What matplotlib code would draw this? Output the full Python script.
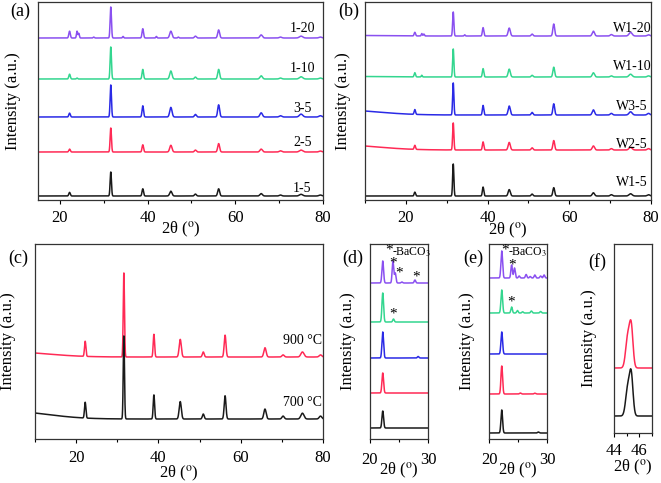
import numpy as np
import matplotlib.pyplot as plt
from matplotlib.ticker import MultipleLocator

plt.rcParams['font.family'] = ['Liberation Serif', 'DejaVu Serif']
plt.rcParams['mathtext.fontset'] = 'stix'
plt.rcParams['font.size'] = 12

# perovskite reflections (2theta, deg) and their gaussian widths
peak_pos = [22.2, 31.6, 38.9, 45.3, 50.9, 56.2, 65.9, 70.3, 75.0, 79.4]
peak_wid = [0.17, 0.15, 0.17, 0.26, 0.22, 0.22, 0.28, 0.28, 0.38, 0.32]

colors = ['#1a1a1a', '#ff2a55', '#2a2ae6', '#33d68f', '#8a50f0']

# (a) samples 1-5 ... 1-20
a_names = ['1-5', '2-5', '3-5', '1-10', '1-20']
a_base = [4, 48, 83, 121, 162]
a_main = [24, 24, 32, 32, 31]
a_lab_y = [12, 57, 92, 131, 171]
a_rel = [
    [0.15, 1, 0.30, 0.20, 0.08, 0.30, 0.10, 0.04, 0.07, 0.04],
    [0.12, 1, 0.30, 0.28, 0.08, 0.35, 0.12, 0.05, 0.08, 0.04],
    [0.12, 1, 0.35, 0.30, 0.08, 0.38, 0.13, 0.04, 0.09, 0.04],
    [0.15, 1, 0.30, 0.25, 0.06, 0.30, 0.10, 0.03, 0.07, 0.03],
    [0.22, 1, 0.30, 0.22, 0.06, 0.26, 0.10, 0.03, 0.06, 0.03],
]
# extra (BaCO3 etc.) reflections: series index, 2theta, relative height
a_extra = [(3, 23.9, 0.03), (4, 23.9, 0.22), (4, 24.3, 0.15), (4, 27.7, 0.03),
           (4, 34.4, 0.05), (4, 42.0, 0.05), (4, 47.0, 0.03)]

# (b) samples W1-5 ... W1-20
b_names = ['W1-5', 'W2-5', 'W3-5', 'W1-10', 'W1-20']
b_base = [4, 50, 85, 123, 164]
b_main = [32, 27, 32, 28, 24]
b_lab_y = [17, 55, 94, 133, 171]
b_rel = [
    [0.12, 1, 0.28, 0.20, 0.06, 0.26, 0.10, 0.04, 0.07, 0.04],
    [0.15, 1, 0.30, 0.28, 0.08, 0.35, 0.15, 0.05, 0.10, 0.05],
    [0.15, 1, 0.30, 0.28, 0.08, 0.35, 0.16, 0.05, 0.10, 0.05],
    [0.15, 1, 0.30, 0.28, 0.06, 0.35, 0.15, 0.04, 0.10, 0.04],
    [0.15, 1, 0.35, 0.33, 0.08, 0.50, 0.20, 0.06, 0.15, 0.05],
]
b_extra = [(3, 23.9, 0.06), (4, 23.9, 0.10), (4, 24.4, 0.08), (4, 34.4, 0.05)]
b_hump = [0, 4, 4, 0.5, 0.5]   # amorphous background at low angle

# (c) calcination temperature
c_names = ['700 °C', '900 °C']
c_base = [20, 82]
c_main = [83, 84]
c_lab_y = [36, 98]
c_rel = [
    [0.19, 1, 0.29, 0.21, 0.06, 0.28, 0.12, 0.035, 0.07, 0.035],
    [0.18, 1, 0.27, 0.21, 0.06, 0.26, 0.11, 0.025, 0.06, 0.025],
]
c_hump = [6, 4]

# (d), (e) zoom 20-30 deg: height of 22.2 peak + extras (series, 2theta, height)
d_base = [11, 46, 81, 117, 156]
d_main = [17, 20, 26, 29, 22]
d_extra = [(2, 28.3, 1.5), (3, 24.05, 3), (4, 23.95, 22), (4, 24.35, 10),
           (4, 25.5, 1), (4, 27.75, 3)]
e_base = [6, 45, 85, 126, 161]
e_main = [23, 28, 22, 23, 27]
e_extra = [(0, 28.5, 1), (1, 25.4, 1), (1, 27.9, 0.8), (3, 23.9, 6), (3, 24.9, 2.5),
           (3, 25.8, 1.2), (3, 27.3, 2), (3, 28.9, 1.5), (4, 23.9, 13), (4, 24.4, 10),
           (4, 25.2, 2), (4, 26.4, 3.5), (4, 27.1, 1.5), (4, 27.9, 3), (4, 28.9, 2),
           (4, 29.5, 3)]

# (f) zoom on 45 deg reflection: two components
f_base = [17, 65]
f_pos = [45.08, 45.36]
f_h = [[27, 40], [30, 40]]


def profile(x, pos, hts, wids):
    y = np.zeros_like(x)
    for p, h, w in zip(pos, hts, wids):
        y += h * np.exp(-0.5 * ((x - p) / w) ** 2)
    return y


fig = plt.figure(figsize=(6.61, 4.83), dpi=100)
W, H = 661, 483


def add_ax(l, t, r, b):
    return fig.add_axes([l / W, 1 - b / H, (r - l) / W, (b - t) / H])


def style(ax, xlim, hpx, wpx, major, minor, gap, tpad, xl_gap):
    ax.set_xlim(*xlim)
    ax.set_ylim(0, hpx)
    ax.set_yticks([])
    ax.xaxis.set_major_locator(MultipleLocator(major))
    ax.xaxis.set_minor_locator(MultipleLocator(minor))
    ax.tick_params(axis='x', which='major', direction='out', length=3, width=0.8,
                   pad=tpad, labelsize=12)
    ax.tick_params(axis='x', which='minor', direction='out', length=2, width=0.8)
    for s in ax.spines.values():
        s.set_color('#333333')
        s.set_linewidth(0.9)
    ax.set_ylabel('Intensity (a.u.)', fontsize=12)
    ax.yaxis.set_label_coords(-gap / wpx, 0.5)
    ax.set_xlabel(r'2θ ($^{\rm o}$)', fontsize=12)
    ax.xaxis.set_label_coords(0.5, -xl_gap / hpx)
    ax.xaxis.label.set_va('top')


def main_pattern(x, base, main, rel, extra, idx, hump=0):
    y = base + profile(x, peak_pos, [main * r for r in rel], peak_wid)
    for i, p, h in extra:
        if i == idx:
            y += main * h * np.exp(-0.5 * ((x - p) / 0.13) ** 2)
    if hump:
        y += hump * np.exp(-0.5 * ((x - 4) / 9) ** 2) / np.exp(-0.5 * (6 / 9) ** 2)
    return y


# ---- (a)
ax = add_ax(38, 2, 323, 200)
x = np.linspace(15, 80, 4000)
for i in range(5):
    y = main_pattern(x, a_base[i], a_main[i], a_rel[i], a_extra, i)
    ax.plot(x, y, color=colors[i], lw=1.1)
    ax.text(75.3, a_lab_y[i], a_names[i], fontsize=10, ha='center', va='center')
style(ax, (15, 80), 198, 285, 20, 10, 17, 4, 20)

# ---- (b)
ax = add_ax(365, 2, 651, 200)
x = np.linspace(10, 80, 4000)
for i in range(5):
    y = main_pattern(x, b_base[i], b_main[i], b_rel[i], b_extra, i, b_hump[i])
    ax.plot(x, y, color=colors[i], lw=1.1)
    ax.text(75.3, b_lab_y[i], b_names[i], fontsize=10, ha='center', va='center')
style(ax, (10, 80), 198, 286, 20, 10, 14, 4, 21)

# ---- (c)
ax = add_ax(35, 244, 323, 439)
for i in [1, 0]:
    y = main_pattern(x, c_base[i], c_main[i], c_rel[i], [], i, c_hump[i])
    ax.plot(x, y, color=colors[i], lw=1.1)
    ax.text(75.1, c_lab_y[i], c_names[i], fontsize=10, ha='center', va='center')
style(ax, (10, 80), 195, 288, 20, 10, 19, 5, 25)

# ---- (d) and (e)
xz = np.linspace(20, 30, 2000)
for (l, r), base, main, extra, lab in [((370, 428), d_base, d_main, d_extra, 'd'),
                                       ((489, 547), e_base, e_main, e_extra, 'e')]:
    ax = add_ax(l, 244, r, 439)
    for i in range(5):
        y = base[i] + main[i] * np.exp(-0.5 * ((xz - 22.2) / 0.14) ** 2)
        for k, p, h in extra:
            if k == i:
                y += h * np.exp(-0.5 * ((xz - p) / 0.13) ** 2)
        ax.plot(xz, y, color=colors[i], lw=1.1)
    style(ax, (20, 30), 195, 58, 10, 5, 14, 6, 22)

    if lab == 'd':
        star_x, text_x = 23.35, 23.75
        marks = [(24.0, 176), (25.0, 166), (28.0, 162), (24.05, 125)]
    else:
        star_x, text_x = 22.85, 23.25
        marks = [(23.95, 174), (23.85, 137)]
    ax.text(star_x, 189, '*', fontsize=11, ha='center', va='center')
    ax.text(text_x, 187, '-BaCO$_3$', fontsize=8.5, ha='left', va='center')
    for sx, sy in marks:
        ax.text(sx, sy, '*', fontsize=11, ha='center', va='center')

# ---- (f)
ax = add_ax(614, 244, 652, 433)
xf = np.linspace(44, 47, 800)
for i in [1, 0]:
    y = f_base[i] + profile(xf, f_pos, f_h[i], [0.16, 0.14])
    ax.plot(xf, y, color=colors[i], lw=1.1)
style(ax, (44, 47), 189, 38, 2, 1, 17, 4, 25)

# panel letters
for lab, px, py in [('(a)', 10, 3), ('(b)', 338, 3), ('(c)', 8, 250),
                    ('(d)', 342, 250), ('(e)', 463, 250), ('(f)', 588, 253)]:
    fig.text(px / W, 1 - py / H, lab, fontsize=13, ha='left', va='top')

fig.savefig('out.png', dpi=100)
